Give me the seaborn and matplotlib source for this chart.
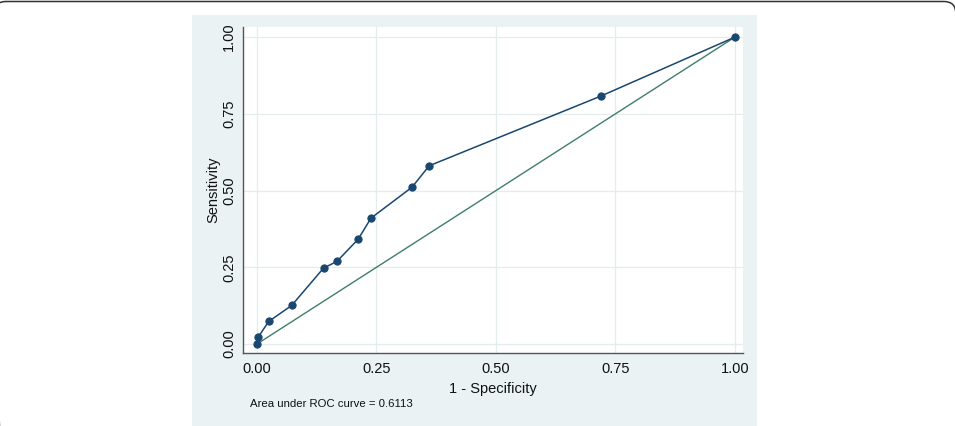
import numpy as np
import pandas as pd
import seaborn as sns
import matplotlib.pyplot as plt
from matplotlib.patches import Rectangle, FancyBboxPatch

sns.set_theme(style="white")
plt.rcParams['font.family'] = ['Liberation Sans', 'DejaVu Sans']

# ROC points
fpr = [0.0, 0.0023, 0.0248, 0.0729, 0.1395, 0.1674, 0.2116, 0.2388, 0.3248, 0.3605, 0.7194, 1.0]
tpr = [0.0, 0.0217, 0.0738, 0.1260, 0.2476, 0.2693, 0.3410, 0.4104, 0.5114, 0.5809, 0.8078, 1.0]
ref_x = [0.0, 1.0]
ref_y = [0.0, 1.0]
ticks = [0.0, 0.25, 0.50, 0.75, 1.0]
tick_labels = ['0.00', '0.25', '0.50', '0.75', '1.00']
auc_text = 'Area under ROC curve = 0.6113'

roc = pd.DataFrame({'fpr': fpr, 'tpr': tpr})
ref = pd.DataFrame({'x': ref_x, 'y': ref_y})

navy = '#1a476f'
green = '#3f7f66'
panel_col = '#eaf2f3'
grid_col = '#e4ecee'

W, H = 955, 426
fig = plt.figure(figsize=(W / 100, H / 100), dpi=100, facecolor='white')

# outer rounded frame (journal figure border), mostly cropped off
frame = FancyBboxPatch((-0.06, -0.5), 9.618, 4.26 - 0.015 + 0.5,
                       boxstyle='round,pad=0,rounding_size=0.12',
                       transform=fig.dpi_scale_trans, facecolor='none',
                       edgecolor='#333333', linewidth=1.1, zorder=-2)
fig.patches.append(frame)

# light bluish graph region
fig.patches.append(Rectangle((192 / W, 0), (757 - 192) / W, (426 - 15) / H,
                             transform=fig.transFigure, facecolor=panel_col,
                             edgecolor='none', zorder=-1))

ax = fig.add_axes([243 / W, (426 - 353) / H, (743 - 243) / W, (353 - 27) / H])
ax.set_facecolor('white')

sns.lineplot(data=ref, x='x', y='y', ax=ax, color=green, linewidth=1.0, zorder=2)
sns.lineplot(data=roc, x='fpr', y='tpr', ax=ax, color=navy, linewidth=1.1,
             marker='o', markersize=5.2, markeredgecolor=navy, zorder=3)

ax.set_xlim(-0.029, 1.017)
ax.set_ylim(-0.029, 1.033)
ax.set_xticks(ticks)
ax.set_xticklabels(tick_labels)
ax.set_yticks(ticks)
ax.set_yticklabels(tick_labels, rotation=90, va='center')

ax.grid(True, color=grid_col, linewidth=0.9)
ax.set_axisbelow(True)
for side in ['top', 'right']:
    ax.spines[side].set_visible(False)
for side in ['left', 'bottom']:
    ax.spines[side].set_color('#555555')
    ax.spines[side].set_linewidth(1.0)

ax.tick_params(axis='both', which='major', direction='out', length=3.6, width=0.8,
               color='#555555', labelsize=10.5, labelcolor='#111111')
ax.tick_params(axis='x', pad=3)
ax.tick_params(axis='y', pad=1.5)

ax.set_xlabel('1 - Specificity', fontsize=10.5, color='#111111', labelpad=4.5)
ax.set_ylabel('Sensitivity', fontsize=10.5, color='#111111', labelpad=1)

fig.text(250 / W, (426 - 404) / H, auc_text, fontsize=8.2, color='#111111',
         ha='left', va='center')

fig.savefig('out.png', dpi=100, facecolor='white')
